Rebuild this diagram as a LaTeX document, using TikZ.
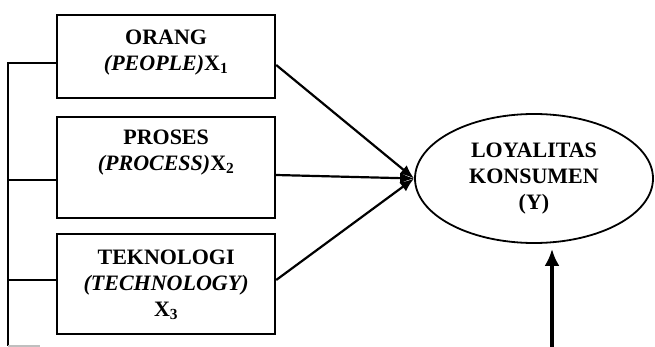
\documentclass[tikz,border=0pt]{standalone}
\usepackage{fontspec}
\setmainfont{Liberation Serif}
\usetikzlibrary{arrows.meta,positioning,shapes.geometric}

\begin{document}
\begin{tikzpicture}[x=1pt, y=-1pt, >={Latex[length=14pt,width=11pt]},
		box/.style={draw, line width=2.2pt, minimum width=218pt, inner sep=0pt},
		lbl/.style={align=center, font=\fontsize{22}{26}\selectfont\bfseries, inner sep=0pt},
		link/.style={line width=2.2pt}]
	\useasboundingbox (0,0) rectangle (655,347);
	% variabel X
	\node[box, minimum height=83pt, anchor=north west] (b1) at (56,14) {};
	\node[box, minimum height=101pt, anchor=north west] (b2) at (56,116) {};
	\node[box, minimum height=100pt, anchor=north west] (b3) at (56,233) {};
	\node[lbl, anchor=north, below=16pt of b1.north] (t1) {ORANG\\\textit{(PEOPLE)}X\textsubscript{1}};
	\node[lbl, anchor=north, below=14pt of b2.north] (t2) {PROSES\\\textit{(PROCESS)}X\textsubscript{2}};
	\node[lbl, anchor=north, below=17pt of b3.north] (t3) {TEKNOLOGI\\\textit{(TECHNOLOGY)}\\X\textsubscript{3}};
	% variabel Y
	\node[draw, ellipse, line width=1.8pt, minimum width=238pt, minimum height=129pt, lbl] (ly) at (534,178.5) {LOYALITAS\\KONSUMEN\\(Y)};
	% garis kiri
	\coordinate (l1) at (8,63);
	\coordinate (l2) at (8,180);
	\coordinate (l3) at (8,280);
	\coordinate (lb) at (8,346);
	\coordinate (in) at (552,347);
	\draw[link] (b1.west |- l1) -- (l1) -- (lb);
	\draw[link] (l2) -- (b2.west |- l2);
	\draw[link] (l3) -- (b3.west |- l3);
	\draw[gray!50, line width=1.5pt] (lb) -- ++(32,0);
	% panah
	\draw[link, ->] (b1.east |- 0,65) -- (ly.west);
	\draw[link, ->] (b2.east |- 0,175) -- (ly.west);
	\draw[link, ->] (b3.east |- l3) -- (ly.west);
	\draw[line width=4pt, -{Latex[length=17pt,width=15pt]}, shorten >=5pt] (in) -- (in |- ly.south);
\end{tikzpicture}
\end{document}
